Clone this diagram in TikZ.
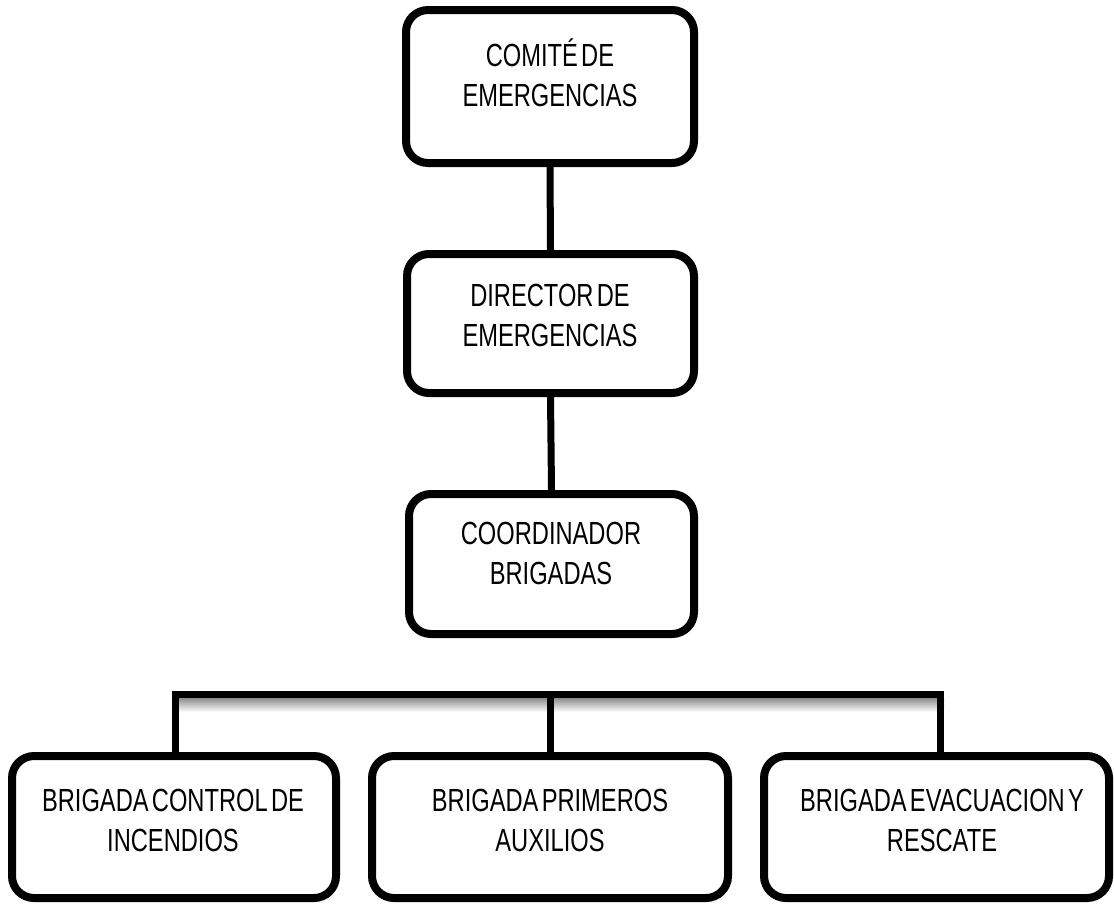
\documentclass[tikz,border=0pt]{standalone}
\usepackage{fontspec}
\setmainfont{Liberation Sans}[FakeStretch=0.74,WordSpace=0.5]
\begin{document}
\begin{tikzpicture}[x=1pt,y=-1pt,
  box/.style={draw=black,line width=8pt,rounded corners=22pt,fill=white,inner sep=0pt},
  conn/.style={draw=black,line width=7pt,line join=miter},
  txt/.style={align=center,inner sep=0pt,font=\fontsize{32}{40}\selectfont}]
\useasboundingbox (0,0) rectangle (1114,906);
% shadow under the bar
\shade[top color=black!45,bottom color=white] (172,698) rectangle (944,712);
% boxes
\node[box,minimum width=288pt,minimum height=153pt] (c1) at (550,86.5) {};
\node[box,minimum width=287pt,minimum height=139pt] (c2) at (550.5,323.5) {};
\node[box,minimum width=285pt,minimum height=140pt] (c3) at (551.5,564) {};
\node[box,minimum width=324pt,minimum height=142pt] (a) at (174,827) {};
\node[box,minimum width=356pt,minimum height=142pt] (b) at (550,827) {};
\node[box,minimum width=345pt,minimum height=142pt] (c) at (936.5,827) {};
% texts
\node[txt] (t1) at (550,72.5) {COMITÉ DE\\EMERGENCIAS};
\node[txt] (t2) at (550,315) {DIRECTOR DE\\EMERGENCIAS};
\node[txt] (t3) at (551,553) {COORDINADOR\\BRIGADAS};
\node[txt] (ta) at (173,820) {BRIGADA CONTROL DE\\INCENDIOS};
\node[txt] (tb) at (550,820) {BRIGADA PRIMEROS\\AUXILIOS};
\node[txt] (tc) at (942,820) {BRIGADA EVACUACION Y\\RESCATE};
% connectors
\coordinate (cL) at (175,694);
\coordinate (cR) at (940,694);
\draw[conn] (c1.south) -- (c2.north);
\draw[conn] (c2.south) -- (c3.north);
\draw[conn] (a.north -| cL) -- (cL) -- (cR) -- (c.north -| cR);
\draw[conn] (b.north) -- (b.north |- cL);
\end{tikzpicture}
\end{document}
